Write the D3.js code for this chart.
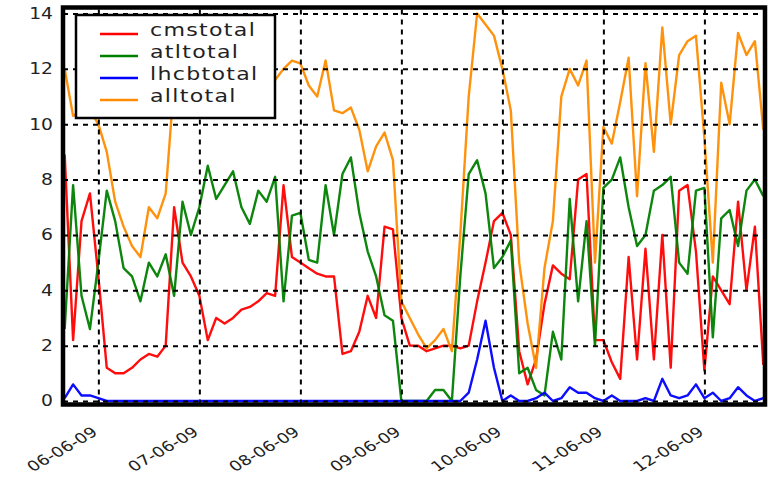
<!DOCTYPE html>
<html><head><meta charset="utf-8">
<script src="https://cdn.jsdelivr.net/npm/d3@7"></script>
<style>body{margin:0;background:#fff}svg{display:block;font-family:"DejaVu Sans",sans-serif}</style>
</head><body><svg id="c" width="773" height="479"></svg>
<script>
// ---- data (2-hourly samples, hours relative to 06-06-09 00:00 UTC) ----
const hours = d3.range(-8, 159, 2);
const seriesNames = ["cmstotal", "atltotal", "lhcbtotal", "alltotal"];
const cmstotal = [
  8.9, 2.2, 6.5, 7.5, 4.5, 1.2, 1.0, 1.0, 1.2, 1.5, 1.7, 1.6,
  2.0, 7.0, 5.0, 4.5, 3.8, 2.2, 3.0, 2.8, 3.0, 3.3, 3.4, 3.6,
  3.9, 3.8, 7.8, 5.2, 5.0, 4.8, 4.6, 4.5, 4.5, 1.7, 1.8, 2.5,
  3.8, 3.0, 6.3, 6.2, 3.0, 2.0, 2.0, 1.8, 1.9, 2.0, 2.0, 1.9,
  2.0, 3.6, 5.0, 6.5, 6.8, 6.0, 1.8, 0.6, 1.5, 3.5, 4.9, 4.6,
  4.4, 8.0, 8.2, 2.2, 2.2, 1.4, 0.8, 5.2, 1.5, 5.5, 1.5, 6.0,
  1.2, 7.6, 7.8, 5.4, 1.1, 4.5, 4.0, 3.5, 7.2, 4.0, 6.3, 1.3
];
const atltotal = [
  2.6, 7.8, 3.8, 2.6, 5.0, 7.6, 6.5, 4.8, 4.5, 3.6, 5.0, 4.5,
  5.3, 3.8, 7.2, 6.0, 7.0, 8.5, 7.3, 7.8, 8.3, 7.0, 6.4, 7.6,
  7.2, 8.1, 3.6, 6.7, 6.8, 5.1, 5.0, 7.8, 6.0, 8.2, 8.8, 6.8,
  5.4, 4.5, 3.1, 2.9, 0.0, 0.0, 0.0, 0.0, 0.4, 0.4, 0.0, 4.5,
  8.2, 8.7, 7.5, 4.8, 5.2, 5.8, 1.0, 1.2, 0.4, 0.2, 2.5, 1.5,
  7.3, 3.6, 6.5, 2.0, 7.7, 8.0, 8.8, 7.0, 5.6, 6.0, 7.6, 7.8,
  8.1, 5.0, 4.6, 7.6, 7.7, 2.3, 6.6, 6.9, 5.6, 7.6, 8.0, 7.4
];
const lhcbtotal = [
  0.1, 0.6, 0.2, 0.2, 0.1, 0.0, 0.0, 0.0, 0.0, 0.0, 0.0, 0.0,
  0.0, 0.0, 0.0, 0.0, 0.0, 0.0, 0.0, 0.0, 0.0, 0.0, 0.0, 0.0,
  0.0, 0.0, 0.0, 0.0, 0.0, 0.0, 0.0, 0.0, 0.0, 0.0, 0.0, 0.0,
  0.0, 0.0, 0.0, 0.0, 0.0, 0.0, 0.0, 0.0, 0.0, 0.0, 0.0, 0.0,
  0.3, 1.5, 2.9, 1.2, 0.0, 0.2, 0.0, 0.0, 0.1, 0.3, 0.0, 0.1,
  0.5, 0.3, 0.3, 0.1, 0.0, 0.2, 0.0, 0.0, 0.0, 0.1, 0.0, 0.8,
  0.2, 0.1, 0.2, 0.6, 0.1, 0.3, 0.0, 0.1, 0.5, 0.2, 0.0, 0.1
];
const alltotal = [
  12.0, 10.3, 10.5, 10.5, 10.0, 9.0, 7.2, 6.3, 5.6, 5.2, 7.0, 6.6,
  7.5, 11.5, 11.8, 11.8, 12.0, 11.8, 12.0, 12.2, 12.0, 11.8, 12.0, 11.8,
  11.9, 11.6, 12.0, 12.3, 12.2, 11.4, 11.0, 12.3, 10.5, 10.4, 10.6, 9.8,
  8.3, 9.2, 9.7, 8.7, 3.6, 3.0, 2.4, 1.9, 2.2, 2.6, 1.8, 6.0,
  11.0, 14.0, 13.6, 13.2, 12.0, 10.5, 5.0, 2.8, 1.2, 4.8, 6.5, 11.0,
  12.0, 11.4, 12.3, 5.0, 9.9, 9.3, 10.8, 12.4, 7.4, 12.2, 9.0, 13.5,
  10.0, 12.5, 13.0, 13.2, 9.5, 5.0, 11.5, 10.0, 13.3, 12.5, 13.0, 9.8
];
const yTickValues = [0, 2, 4, 6, 8, 10, 12, 14];
const xTickDays = ["2009-06-06", "2009-06-07", "2009-06-08", "2009-06-09", "2009-06-10", "2009-06-11", "2009-06-12"];
const xTickLabels = ["06-06-09", "07-06-09", "08-06-09", "09-06-09", "10-06-09", "11-06-09", "12-06-09"];

// ---- build ----
const series = [cmstotal, atltotal, lhcbtotal, alltotal];
const colors = ["#ff0000", "#008000", "#0000ff", "#ff8c00"];
const base = Date.UTC(2009, 5, 6);
const times = hours.map(h => new Date(base + h * 3600e3));

const L = 63, R = 765, T = 7.5, B = 404.5;
const x = d3.scaleUtc()
  .domain([new Date(base - 8.4 * 3600e3), new Date(base + 158.4 * 3600e3)])
  .range([L, R]);
const y = d3.scaleLinear().domain([0, 14]).range([401, 13.5]);

const svg = d3.select("#c");
svg.append("rect").attr("width", 773).attr("height", 479).attr("fill", "#fff");

svg.append("defs").append("clipPath").attr("id", "clip")
  .append("rect").attr("x", L).attr("y", T).attr("width", R - L).attr("height", B - T);

// lines
const line = d3.line().x((d, i) => x(times[i])).y(d => y(d)).curve(d3.curveLinear);
const plot = svg.append("g").attr("clip-path", "url(#clip)");
series.forEach((s, k) => {
  plot.append("path").datum(s).attr("d", line)
    .attr("fill", "none").attr("stroke", colors[k]).attr("stroke-width", 2.4)
    .attr("stroke-linejoin", "round").attr("opacity", 0.95);
});

// grid (drawn above lines)
const tickDates = xTickDays.map(s => new Date(s + "T00:00:00Z"));
const grid = svg.append("g").attr("clip-path", "url(#clip)");
grid.append("g").attr("transform", `translate(${L},0)`)
  .call(d3.axisLeft(y).tickValues(yTickValues).tickSize(-(R - L)).tickFormat(""))
  .call(g => g.select(".domain").remove())
  .selectAll("line").attr("stroke", "#000").attr("stroke-width", 2).attr("stroke-dasharray", "5,5");
grid.append("g").attr("transform", `translate(0,${B})`)
  .call(d3.axisBottom(x).tickValues(tickDates).tickSize(-(B - T)).tickFormat(""))
  .call(g => g.select(".domain").remove())
  .selectAll("line").attr("stroke", "#000").attr("stroke-width", 2).attr("stroke-dasharray", "5,5");

// frame
svg.append("rect").attr("x", L).attr("y", T).attr("width", R - L).attr("height", B - T)
  .attr("fill", "none").attr("stroke", "#000").attr("stroke-width", 4.5);

// y labels
const yAx = svg.append("g").attr("transform", `translate(${L},0)`)
  .call(d3.axisLeft(y).tickValues(yTickValues).tickSize(0).tickPadding(8).tickFormat(d3.format("d")));
yAx.select(".domain").remove();
yAx.selectAll("text").attr("font-size", 15).attr("font-family", "DejaVu Sans")
  .attr("fill", "#222").attr("transform", "scale(1.25,1)");

// x labels
const xAx = svg.append("g").attr("transform", `translate(0,401)`)
  .call(d3.axisBottom(x).tickValues(tickDates).tickSize(0)
    .tickFormat((d, i) => xTickLabels[i]));
xAx.select(".domain").remove();
xAx.selectAll("text").attr("font-size", 14).attr("font-family", "DejaVu Sans")
  .attr("fill", "#222").attr("text-anchor", "end")
  .attr("y", 0).attr("dy", 0)
  .attr("transform", "translate(0,33) scale(1.3,1) rotate(-37)");

// legend
const lg = svg.append("g");
lg.append("rect").attr("x", 76).attr("y", 15).attr("width", 199).attr("height", 103)
  .attr("fill", "#fff").attr("stroke", "#000").attr("stroke-width", 2.5);
seriesNames.forEach((n, k) => {
  const ly = 34 + k * 22;
  lg.append("line").attr("x1", 100).attr("x2", 138).attr("y1", ly).attr("y2", ly)
    .attr("stroke", colors[k]).attr("stroke-width", 2.4);
  lg.append("text").attr("transform", `translate(150,${ly + 2}) scale(1.3,1)`)
    .attr("font-size", 17).attr("letter-spacing", 1).attr("font-family", "DejaVu Sans").attr("fill", "#222")
    .text(n);
});
</script>
</body></html>
